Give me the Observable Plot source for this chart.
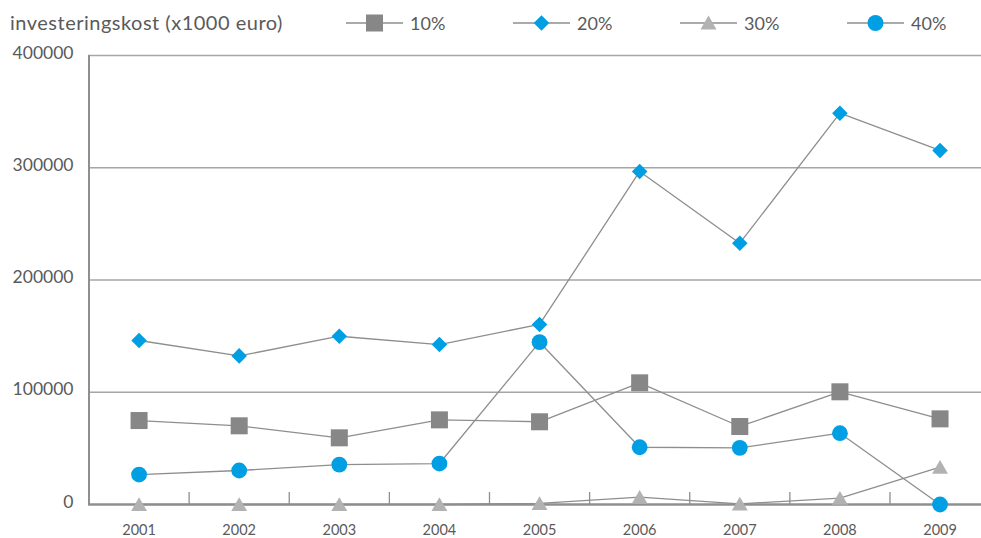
<!DOCTYPE html>
<html>
<head>
<meta charset="utf-8">
<script src="https://cdn.jsdelivr.net/npm/d3@7"></script>
<script src="https://cdn.jsdelivr.net/npm/@observablehq/plot@0.6"></script>
<style>
  body { margin: 0; background: #fff; font-family: Lato, "Open Sans", sans-serif; color: #555; }
  #header { position: relative; width: 981px; height: 40px; }
  #title { position: absolute; left: 10px; top: 9px; font-size: 20px; letter-spacing: 0.5px; font-weight: 400; line-height: 26px; color: #5a5a5a; white-space: nowrap; }
  .item { position: absolute; top: 10px; height: 26px; }
  .item svg { position: absolute; left: 0; top: 0; }
  .item span { position: absolute; top: 0; font-size: 18px; font-weight: 400; line-height: 26px; color: #5a5a5a; white-space: nowrap; }
  #chart svg { display: block; }
</style>
</head>
<body>
<div id="header"><div id="title">investeringskost (x1000 euro)</div></div>
<div id="chart"></div>
<script>
// ---- data ----
const years = [2001, 2002, 2003, 2004, 2005, 2006, 2007, 2008, 2009];
const seriesNames = ["10%", "20%", "30%", "40%"];
const s10 = [74800, 70100, 59400, 75400, 73700, 108400, 69500, 100400, 76300];
const s20 = [146100, 132400, 149900, 142500, 160400, 296700, 232800, 348600, 315400];
const s30 = [0, 0, 0, 0, 1000, 6500, 600, 5600, 33200];
const s40 = [26700, 30300, 35600, 36500, 144600, 51000, 50500, 63500, 0];
const yTicks = [0, 100000, 200000, 300000, 400000];
const yTitle = "investeringskost (x1000 euro)";

// ---- tidy table ----
const seriesValues = [s10, s20, s30, s40];
const rows = [];
seriesNames.forEach((name, k) => {
  years.forEach((yr, i) => rows.push({series: name, year: yr, value: seriesValues[k][i]}));
});
const of = (name) => rows.filter(d => d.series === name);

// ---- styles ----
const BLUE = "#009fe3", DARKGRAY = "#878787", LIGHTGRAY = "#b2b2b2", LINE = "#8e8e8e";
const mids = years.slice(0, -1).map(y => y + 0.5);

const chart = Plot.plot({
  width: 981,
  height: 498,
  marginTop: 15,
  marginBottom: 34,
  marginLeft: 88,
  marginRight: 0,
  style: {fontFamily: "Lato, 'Open Sans', sans-serif", color: "#5a5a5a", background: "#fff"},
  x: {type: "linear", domain: [years[0] - 0.5, years[years.length - 1] + 0.5], range: [88.5, 989.6]},
  y: {domain: [0, 400000]},
  marks: [
    Plot.ruleY(yTicks.slice(1), {stroke: "#a6a6a6", strokeWidth: 1.6}),
    Plot.ruleX([years[0] - 0.5], {y1: 0, y2: 400000, stroke: "#8f8f8f", strokeWidth: 2}),
    Plot.ruleY([0], {stroke: "#8f8f8f", strokeWidth: 2.6}),
    Plot.ruleX(mids, {y1: 0, y2: 0, insetTop: -12, stroke: "#8f8f8f", strokeWidth: 1.3}),
    Plot.axisY(yTicks, {tickSize: 0, tickPadding: 15, fontSize: 17.5, dy: -2.5, tickFormat: d => String(d), label: null}),
    Plot.axisX(years, {tickSize: 0, tickPadding: 20, fontSize: 14.5, tickFormat: d => String(d), label: null}),
    Plot.line(rows, {x: "year", y: "value", z: "series", stroke: LINE, strokeWidth: 1.3}),
    Plot.dot(of("10%"), {x: "year", y: "value", symbol: "square", r: 9.6, fill: DARKGRAY, stroke: "none"}),
    Plot.dot(of("20%"), {x: "year", y: "value", symbol: "square", rotate: 45, r: 6.2, fill: BLUE, stroke: "none"}),
    Plot.dot(of("30%"), {x: "year", y: "value", symbol: "triangle", r: 5.9, dy: 2, fill: LIGHTGRAY, stroke: "none"}),
    Plot.dot(of("40%"), {x: "year", y: "value", symbol: "circle", r: 7.9, fill: BLUE, stroke: "none"})
  ]
});
document.getElementById("chart").appendChild(chart);

// ---- legend (HTML, above the SVG) ----
const legendStyle = {
  "10%": {left: 346, sym: `<rect x="20" y="4.5" width="17" height="17" fill="${DARKGRAY}"/>`},
  "20%": {left: 513, sym: `<rect x="23" y="7.5" width="11" height="11" fill="${BLUE}" transform="rotate(45 28.5 13)"/>`},
  "30%": {left: 680, sym: `<path d="M28.5,5.5 L36.5,19.5 L20.5,19.5 Z" fill="${LIGHTGRAY}"/>`},
  "40%": {left: 847, sym: `<circle cx="28.5" cy="13" r="8" fill="${BLUE}"/>`}
};
const header = document.getElementById("header");
seriesNames.forEach(name => {
  const st = legendStyle[name];
  const div = document.createElement("div");
  div.className = "item";
  div.style.left = st.left + "px";
  div.innerHTML = `<svg width="60" height="26"><line x1="0" x2="57" y1="13" y2="13" stroke="${LINE}" stroke-width="1.5"/>${st.sym}</svg><span style="left:64px">${name}</span>`;
  header.appendChild(div);
});
</script>
</body>
</html>
